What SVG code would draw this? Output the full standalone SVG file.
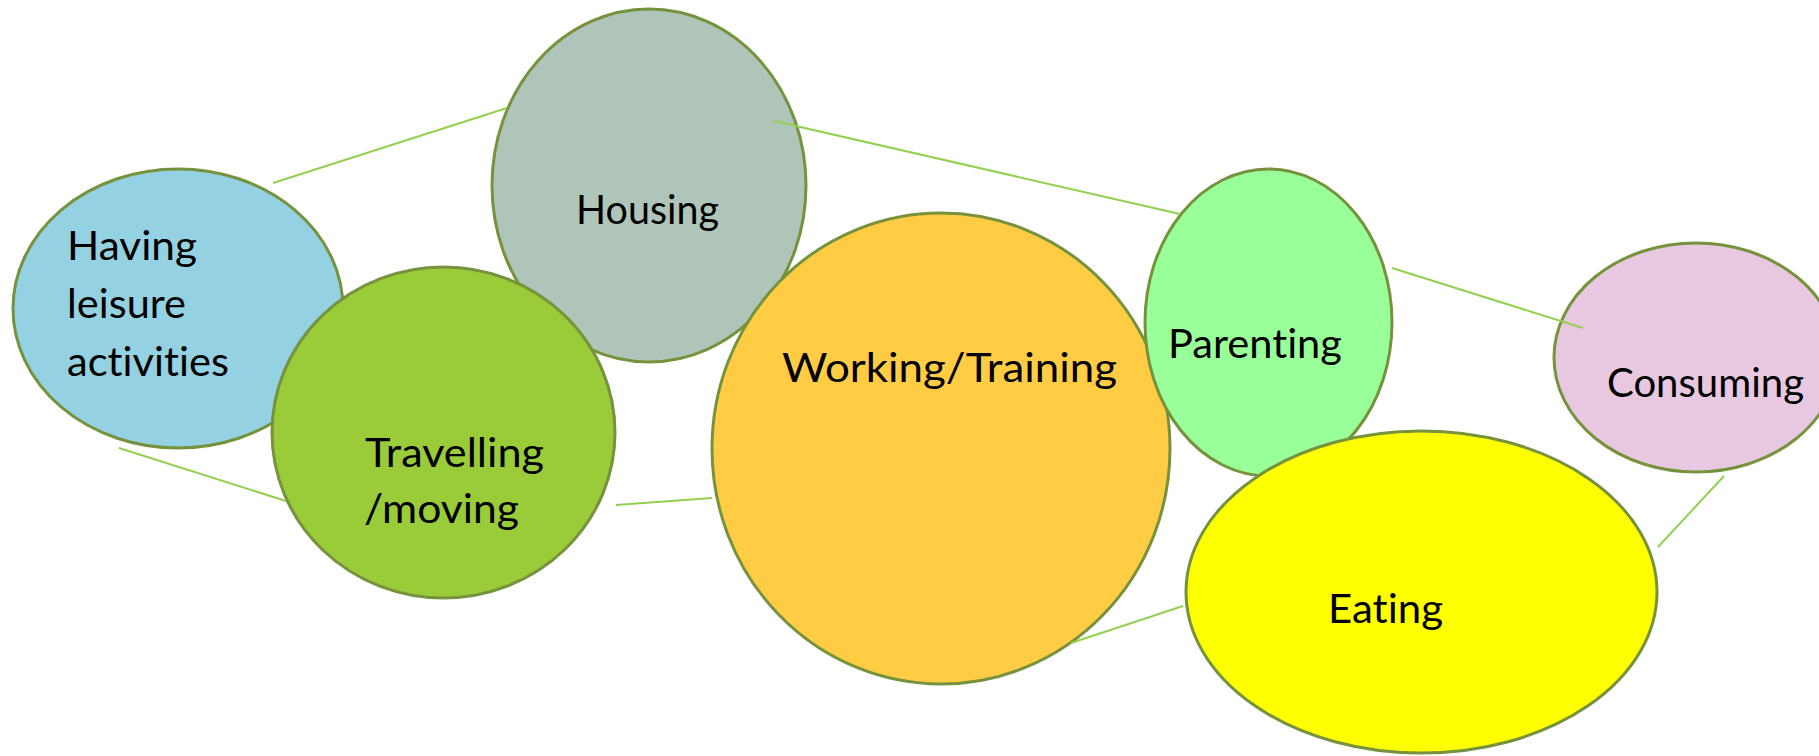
<svg xmlns="http://www.w3.org/2000/svg" width="1819" height="756" viewBox="0 0 1819 756">
<style>
.n{stroke:#76923C;stroke-width:3}
.t{font-family:Lato,"Noto Sans","Liberation Sans",sans-serif;font-size:40px;fill:#000;font-variant-ligatures:none;font-feature-settings:"liga" 0,"clig" 0}
.c line{stroke:#92D050;stroke-width:2}
</style>
<rect width="1819" height="756" fill="#fff"/>
<g id="having"><ellipse class="n" cx="178" cy="308.5" rx="165" ry="139.5" fill="#94D1E2"/>
<text class="t" x="67" y="260" textLength="130" lengthAdjust="spacingAndGlyphs">Having</text>
<text class="t" x="67" y="318" textLength="119" lengthAdjust="spacingAndGlyphs">leisure</text>
<text class="t" x="67" y="376" textLength="162" lengthAdjust="spacingAndGlyphs">activities</text></g>
<g id="housing"><ellipse class="n" cx="649" cy="185.5" rx="157" ry="176.5" fill="#AFC5B9"/>
<text class="t" x="576" y="224" textLength="143" lengthAdjust="spacingAndGlyphs">Housing</text></g>
<g id="travelling"><ellipse class="n" cx="443.5" cy="432.5" rx="171.5" ry="165.5" fill="#99CC38"/>
<text class="t" x="365" y="467" textLength="179" lengthAdjust="spacingAndGlyphs">Travelling</text>
<text class="t" x="364" y="523" textLength="155" lengthAdjust="spacingAndGlyphs">/moving</text></g>
<g id="working"><ellipse class="n" cx="941" cy="448.5" rx="229" ry="235.5" fill="#FFCC44"/>
<text class="t" x="782" y="382" textLength="335" lengthAdjust="spacingAndGlyphs">Working/Training</text></g>
<g id="parenting"><ellipse class="n" cx="1268.5" cy="322.5" rx="123.5" ry="153.5" fill="#99FF99"/>
<text class="t" x="1168" y="358" textLength="174" lengthAdjust="spacingAndGlyphs">Parenting</text></g>
<g id="consuming"><ellipse class="n" cx="1696" cy="357.5" rx="142" ry="114.5" fill="#E8C8E0"/>
<text class="t" x="1607" y="397" textLength="197" lengthAdjust="spacingAndGlyphs">Consuming</text></g>
<g id="eating"><ellipse class="n" cx="1421.5" cy="592" rx="235.5" ry="161" fill="#FFFF00"/>
<text class="t" x="1328" y="623" textLength="115" lengthAdjust="spacingAndGlyphs">Eating</text></g>
<g id="connectors" class="c">
<line x1="273" y1="183" x2="507" y2="108"/>
<line x1="119" y1="448" x2="286" y2="501"/>
<line x1="616" y1="505" x2="712" y2="498"/>
<line x1="774" y1="121" x2="1180" y2="214"/>
<line x1="1392" y1="268" x2="1583" y2="328"/>
<line x1="1658" y1="547" x2="1724" y2="476"/>
<line x1="1071" y1="643" x2="1183" y2="606"/>
</g>
</svg>
